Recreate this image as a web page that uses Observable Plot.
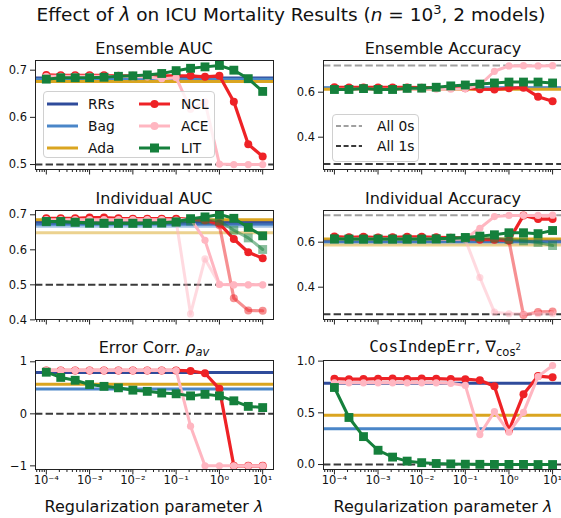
<!DOCTYPE html>
<html><head><meta charset="utf-8">
<script src="https://cdn.jsdelivr.net/npm/d3@7"></script>
<script src="https://cdn.jsdelivr.net/npm/@observablehq/plot@0.6"></script>
<style>
body{margin:0;background:#fff;}
#wrap{position:relative;width:561px;height:518px;overflow:hidden;font-family:"DejaVu Sans",sans-serif;color:#111;background:#fff;}
#wrap svg.plot{position:absolute;}
#overlay{position:absolute;left:0;top:0;pointer-events:none;}
.legend{position:absolute;box-sizing:border-box;border:1px solid #d0d0d0;border-radius:4px;background:rgba(255,255,255,0.8);font-size:13.8px;color:#111;}
.legend .item{display:flex;align-items:center;white-space:nowrap;}
.legend svg{display:block;flex:none;}
</style></head>
<body>
<div id="wrap">
<svg id="overlay" width="561" height="518" font-family="DejaVu Sans" fill="#111">
  <text x="291" y="21" font-size="18.5" text-anchor="middle">Effect of <tspan font-style="italic">λ</tspan> on ICU Mortality Results (<tspan font-style="italic">n</tspan> = 10<tspan font-size="13" dy="-7.5">3</tspan><tspan dy="7.5">, 2 models)</tspan></text>
  <text x="154" y="54" font-size="16" text-anchor="middle">Ensemble AUC</text>
  <text x="443" y="54" font-size="16" text-anchor="middle">Ensemble Accuracy</text>
  <text x="154" y="203.5" font-size="16" text-anchor="middle">Individual AUC</text>
  <text x="443" y="203.5" font-size="16" text-anchor="middle">Individual Accuracy</text>
  <text x="154" y="352.5" font-size="16" text-anchor="middle">Error Corr. <tspan font-style="italic">ρ</tspan><tspan font-style="italic" font-size="11.5" dy="3.5">av</tspan></text>
  <text x="445" y="352" font-size="16" text-anchor="middle"><tspan font-family="DejaVu Sans Mono">CosIndepErr</tspan>, ∇<tspan font-size="11.5" dy="3.5">cos</tspan><tspan font-size="8.5" dy="-6">2</tspan></text>
  <text x="154" y="512" font-size="16" text-anchor="middle">Regularization parameter <tspan font-style="italic">λ</tspan></text>
  <text x="443" y="512" font-size="16" text-anchor="middle">Regularization parameter <tspan font-style="italic">λ</tspan></text>
</svg>
</div>
<script>
// ---------- data ----------
const lambdas = [1e-4, 2.154e-4, 4.642e-4, 1e-3, 2.154e-3, 4.642e-3, 1e-2, 2.154e-2, 4.642e-2, 1e-1, 0.2154, 0.4642, 1, 2.154, 4.642, 10];
const baselineNames = ["RRs", "Bag", "Ada"];
const seriesNames = ["NCL", "ACE", "LIT"];
const colorRRs = "#2f4b9b", colorBag = "#4a86c8", colorAda = "#daa520";
const colorNCL = "#ee2226", colorACE = "#ffb6c1", colorLIT = "#15803c";
const majorTicks = [1e-4, 1e-3, 1e-2, 1e-1, 1, 10];
const majorTickLabels = ["10⁻⁴", "10⁻³", "10⁻²", "10⁻¹", "10⁰", "10¹"];

// Ensemble AUC
const ensAucBase = [0.6836, 0.6805, 0.6762]; // RRs, Bag, Ada
const ensAucNCL = [0.690,0.689,0.689,0.689,0.689,0.688,0.688,0.688,0.688,0.688,0.688,0.686,0.688,0.633,0.543,0.517];
const ensAucACE = [0.687,0.687,0.687,0.687,0.687,0.687,0.686,0.686,0.682,0.684,0.617,0.633,0.501,0.500,0.500,0.500];
const ensAucLIT = [0.681,0.684,0.684,0.684,0.685,0.687,0.688,0.690,0.693,0.699,0.704,0.707,0.710,0.700,0.682,0.655];
const ensAucTicks = [0.5, 0.6, 0.7];

// Ensemble Accuracy
const ensAccBase = [0.617, 0.620, 0.613];
const ensAccAll0s = 0.719, ensAccAll1s = 0.281;
const ensAccNCL = [0.622,0.621,0.621,0.621,0.621,0.621,0.620,0.620,0.619,0.618,0.613,0.612,0.617,0.620,0.580,0.560];
const ensAccACE = [0.613,0.613,0.613,0.613,0.613,0.613,0.613,0.613,0.613,0.615,0.632,0.693,0.717,0.718,0.717,0.718];
const ensAccLIT = [0.612,0.612,0.616,0.612,0.612,0.617,0.618,0.622,0.628,0.632,0.636,0.641,0.645,0.645,0.645,0.641];
const accTicks = [0.4, 0.6];

// Individual AUC (model 1 solid, model 2 faded)
const indAucBase1 = [0.680, 0.673, 0.686];
const indAucBase2 = [0.676, 0.667, 0.649];
const indAucNCL1 = [0.690,0.690,0.690,0.692,0.692,0.690,0.689,0.689,0.689,0.689,0.688,0.685,0.675,0.631,0.593,0.576];
const indAucNCL2 = [0.688,0.688,0.688,0.689,0.689,0.688,0.688,0.688,0.688,0.688,0.687,0.684,0.670,0.462,0.427,0.426];
const indAucACE1 = [0.686,0.686,0.686,0.686,0.686,0.686,0.686,0.686,0.686,0.685,0.689,0.627,0.501,0.500,0.500,0.500];
const indAucACE2 = [0.685,0.685,0.685,0.685,0.685,0.685,0.685,0.685,0.685,0.683,0.417,0.574,0.502,0.500,0.500,0.500];
const indAucLIT1 = [0.681,0.681,0.679,0.677,0.676,0.676,0.676,0.676,0.677,0.680,0.689,0.694,0.701,0.690,0.664,0.640];
const indAucLIT2 = [0.680,0.680,0.678,0.675,0.675,0.675,0.675,0.675,0.676,0.678,0.682,0.686,0.682,0.656,0.634,0.601];
const indAucTicks = [0.4, 0.5, 0.6, 0.7];

// Individual Accuracy
const indAccBase1 = [0.607, 0.603, 0.614];
const indAccBase2 = [0.604, 0.598, 0.588];
const indAccAll0s = 0.72, indAccAll1s = 0.28;
const indAccNCL1 = [0.625,0.622,0.624,0.621,0.622,0.624,0.624,0.622,0.620,0.618,0.612,0.612,0.608,0.719,0.703,0.703];
const indAccNCL2 = [0.620,0.620,0.620,0.620,0.620,0.620,0.620,0.620,0.619,0.617,0.611,0.610,0.606,0.276,0.290,0.292];
const indAccACE1 = [0.614,0.614,0.614,0.614,0.614,0.614,0.614,0.614,0.614,0.615,0.662,0.714,0.719,0.719,0.719,0.720];
const indAccACE2 = [0.613,0.613,0.613,0.613,0.613,0.613,0.613,0.613,0.613,0.612,0.443,0.289,0.282,0.282,0.282,0.282];
const indAccLIT1 = [0.615,0.614,0.614,0.614,0.614,0.614,0.614,0.615,0.618,0.621,0.627,0.633,0.642,0.642,0.638,0.652];
const indAccLIT2 = [0.613,0.613,0.613,0.613,0.613,0.613,0.613,0.614,0.616,0.618,0.620,0.618,0.612,0.606,0.599,0.585];

// Error correlation
const errBase = [0.795, 0.475, 0.570];
const errNCL = [0.835,0.835,0.835,0.835,0.835,0.835,0.835,0.835,0.835,0.835,0.825,0.780,0.480,-1.0,-1.0,-1.0];
const errACE = [0.835,0.835,0.835,0.835,0.835,0.835,0.835,0.835,0.835,0.833,-0.238,-1.0,-1.0,-1.0,-1.0,-1.0];
const errLIT = [0.800,0.700,0.645,0.563,0.528,0.500,0.455,0.432,0.400,0.385,0.345,0.375,0.345,0.250,0.143,0.120];
const errTicks = [-1, 0, 1];
const errTickLabels = ["−1", "0", "1"];

// CosIndepErr
const cosBase = [0.785, 0.347, 0.477];
const cosNCL = [0.830,0.825,0.826,0.830,0.832,0.828,0.831,0.830,0.826,0.825,0.815,0.757,0.330,0.680,0.855,0.843];
const cosACE = [0.790,0.790,0.790,0.790,0.790,0.790,0.790,0.790,0.785,0.765,0.290,0.512,0.312,0.505,0.850,0.957];
const cosLIT = [0.745,0.455,0.270,0.138,0.072,0.033,0.018,0.010,0.006,0.003,0.002,0.001,0.001,0.001,0.000,0.000];
const cosTicks = [0.0, 0.5, 1.0];

// ---------- layout ----------
const COLS = [
  {svgLeft: 0, width: 280, marginLeft: 35, marginRight: 7},
  {svgLeft: 282, width: 290, marginLeft: 41, marginRight: 9}
];
const ROWS = [{top: 60, bottom: 169}, {top: 210, bottom: 319}, {top: 360, bottom: 469}];
const baseColors = [colorRRs, colorBag, colorAda];
const minorTicks = [];
for (let k = -5; k <= 1; k++) for (let m = 2; m <= 9; m++) {
  const v = m * Math.pow(10, k);
  if (v > Math.pow(10, -4.25) && v < Math.pow(10, 1.25)) minorTicks.push(v);
}
const dash = "7.4,3.2";
const toRows = arr => lambdas.map((x, i) => ({x, y: arr[i]}));

function seriesMarks(arr, color, kind, opacity) {
  const data = toRows(arr);
  const out = [Plot.line(data, {x: "x", y: "y", stroke: color, strokeWidth: kind === "NCL" ? 3.2 : 3, strokeOpacity: opacity})];
  if (kind === "LIT") out.push(Plot.dot(data, {x: "x", y: "y", symbol: "square", r: 5, fill: color, fillOpacity: opacity}));
  else out.push(Plot.dot(data, {x: "x", y: "y", r: kind === "NCL" ? 4 : 3.6, fill: color, fillOpacity: opacity}));
  return out;
}

function panel({col, row, yDomain, yTicks, yLabels, refs, base1, base2, s1, s2, showX}) {
  const c = COLS[col], r = ROWS[row];
  const mt = 8, mb = showX ? 30 : 10;
  const height = r.bottom - r.top + mt + mb;
  const marks = [];
  refs.forEach(ref => marks.push(Plot.ruleY([ref.y], {stroke: ref.color, strokeWidth: 2, strokeDasharray: dash})));
  base1.forEach((v, i) => marks.push(Plot.ruleY([v], {stroke: baseColors[i], strokeWidth: 3})));
  if (base2) base2.forEach((v, i) => marks.push(Plot.ruleY([v], {stroke: baseColors[i], strokeWidth: 3, strokeOpacity: 0.5})));
  const cols = [colorNCL, colorACE, colorLIT];
  seriesNames.forEach((name, i) => {
    marks.push(...seriesMarks(s1[i], cols[i], name, 1));
    if (s2) marks.push(...seriesMarks(s2[i], cols[i], name, 0.5));
  });
  marks.push(Plot.frame({stroke: "#222", strokeWidth: 1}));
  marks.push(Plot.axisY({ticks: yTicks, tickSize: 5, tickPadding: 3.5, label: null,
    tickFormat: d => yLabels ? yLabels[yTicks.indexOf(d)] : d.toFixed(1), fontSize: 11.5, stroke: "#222"}));
  marks.push(Plot.axisX({ticks: majorTicks, tickSize: 5.5, tickPadding: 1, label: null,
    tickFormat: d => showX ? majorTickLabels[majorTicks.indexOf(d)] : "", fontSize: 11.5, stroke: "#222"}));
  marks.push(Plot.axisX({ticks: minorTicks, tickSize: 3, label: null, tickFormat: () => "", stroke: "#222"}));
  const svg = Plot.plot({
    width: c.width, height,
    marginLeft: c.marginLeft, marginRight: c.marginRight, marginTop: mt, marginBottom: mb,
    x: {type: "log", domain: [Math.pow(10, -4.25), Math.pow(10, 1.25)], label: null},
    y: {domain: yDomain, label: null},
    style: {fontFamily: "DejaVu Sans", fontSize: "11.5px", color: "#111", background: "transparent", overflow: "visible"},
    marks
  });
  svg.classList.add("plot");
  svg.style.left = c.svgLeft + "px";
  svg.style.top = (r.top - mt) + "px";
  svg.style.maxWidth = "none";
  document.getElementById("wrap").insertBefore(svg, document.getElementById("overlay"));
}

const darkDash = "#3a3a3a", greyDash = "#a0a0a0";
panel({col: 0, row: 0, yDomain: [0.4895, 0.7205], yTicks: ensAucTicks, refs: [{y: 0.5, color: darkDash}],
  base1: ensAucBase, s1: [ensAucNCL, ensAucACE, ensAucLIT]});
panel({col: 1, row: 0, yDomain: [0.2564, 0.7409], yTicks: accTicks, refs: [{y: ensAccAll0s, color: greyDash}, {y: ensAccAll1s, color: darkDash}],
  base1: ensAccBase, s1: [ensAccNCL, ensAccACE, ensAccLIT]});
panel({col: 0, row: 1, yDomain: [0.401, 0.7123], yTicks: indAucTicks, refs: [{y: 0.5, color: darkDash}],
  base1: indAucBase1, base2: indAucBase2, s1: [indAucNCL1, indAucACE1, indAucLIT1], s2: [indAucNCL2, indAucACE2, indAucLIT2]});
panel({col: 1, row: 1, yDomain: [0.2564, 0.7409], yTicks: accTicks, refs: [{y: indAccAll0s, color: greyDash}, {y: indAccAll1s, color: darkDash}],
  base1: indAccBase1, base2: indAccBase2, s1: [indAccNCL1, indAccACE1, indAccLIT1], s2: [indAccNCL2, indAccACE2, indAccLIT2]});
panel({col: 0, row: 2, yDomain: [-1.07, 1.025], yTicks: errTicks, yLabels: errTickLabels, refs: [{y: 0, color: darkDash}],
  base1: errBase, s1: [errNCL, errACE, errLIT], showX: true});
panel({col: 1, row: 2, yDomain: [-0.048, 1.006], yTicks: cosTicks, refs: [{y: 0, color: darkDash}],
  base1: cosBase, s1: [cosNCL, cosACE, cosLIT], showX: true});

// ---------- legends ----------
function swatch(color, kind, len, dashed) {
  const s = d3.create("svg").attr("width", len).attr("height", 12);
  s.append("line").attr("x1", 0).attr("x2", len).attr("y1", 6).attr("y2", 6)
    .attr("stroke", color).attr("stroke-width", dashed ? 2 : 3).attr("stroke-dasharray", dashed ? "5,2.6" : null);
  if (kind === "circle") s.append("circle").attr("cx", len / 2).attr("cy", 6).attr("r", 4).attr("fill", color);
  if (kind === "square") s.append("rect").attr("x", len / 2 - 4.5).attr("y", 1.5).attr("width", 9).attr("height", 9).attr("fill", color);
  return s.node();
}
function legend(box, cols, items, len, rowH, colW) {
  const div = document.createElement("div");
  div.className = "legend";
  Object.assign(div.style, {left: box[0] + "px", top: box[1] + "px", width: box[2] + "px", height: box[3] + "px",
    display: "grid", gridTemplateColumns: `repeat(${cols}, ${colW}px)`, gridAutoFlow: "column",
    gridTemplateRows: `repeat(${Math.ceil(items.length / cols)}, ${rowH}px)`, padding: "0.5px 0 0 3px"});
  items.forEach(it => {
    const d = document.createElement("div");
    d.className = "item";
    const sw = swatch(it.color, it.kind, len, it.dashed);
    sw.style.marginRight = it.gap + "px";
    d.appendChild(sw);
    d.appendChild(document.createTextNode(it.label));
    div.appendChild(d);
  });
  document.getElementById("wrap").appendChild(div);
}
legend([43, 91, 172, 67], 2, [
  {label: baselineNames[0], color: colorRRs, kind: null, gap: 10},
  {label: baselineNames[1], color: colorBag, kind: null, gap: 10},
  {label: baselineNames[2], color: colorAda, kind: null, gap: 10},
  {label: seriesNames[0], color: colorNCL, kind: "circle", gap: 11},
  {label: seriesNames[1], color: colorACE, kind: "circle", gap: 11},
  {label: seriesNames[2], color: colorLIT, kind: "square", gap: 11}
], 31, 22, 92);
legend([332, 114, 87, 48], 1, [
  {label: "All 0s", color: greyDash, kind: null, dashed: true, gap: 15},
  {label: "All 1s", color: darkDash, kind: null, dashed: true, gap: 15}
], 26, 20, 84);
</script>
</body></html>
